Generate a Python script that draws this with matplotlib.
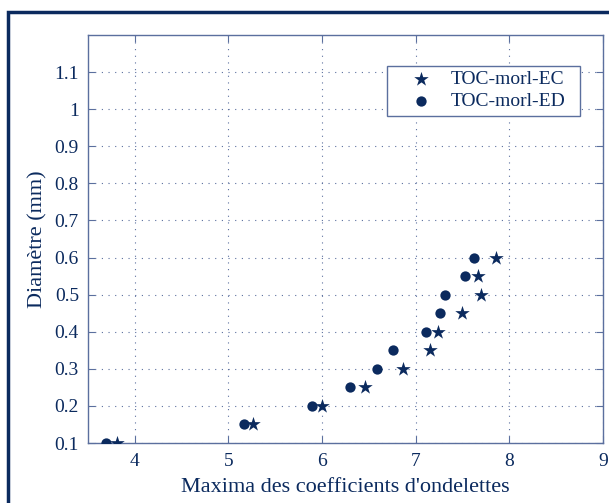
import matplotlib
matplotlib.use("Agg")
import matplotlib.pyplot as plt
from matplotlib.patches import Rectangle

ec_x = [3.81, 5.26, 6.00, 6.46, 6.86, 7.155, 7.24, 7.49, 7.70, 7.66, 7.86]
ec_y = [0.10, 0.15, 0.20, 0.25, 0.30, 0.35, 0.40, 0.45, 0.50, 0.55, 0.60]
ed_x = [3.69, 5.17, 5.89, 6.30, 6.59, 6.76, 7.11, 7.26, 7.31, 7.53, 7.62]
ed_y = [0.10, 0.15, 0.20, 0.25, 0.30, 0.35, 0.40, 0.45, 0.50, 0.55, 0.60]
xticks = [4, 5, 6, 7, 8, 9]
yticks = [0.1, 0.2, 0.3, 0.4, 0.5, 0.6, 0.7, 0.8, 0.9, 1.0, 1.1]
ytick_labels = ["0.1", "0.2", "0.3", "0.4", "0.5", "0.6", "0.7", "0.8", "0.9", "1", "1.1"]

navy = "#0b2a5e"
spine = "#5b6f9e"

plt.rcParams['font.family'] = ['Liberation Serif', 'DejaVu Serif']

W, H = 609, 503
AX_L, AX_R, AX_T, AX_B = 88, 603, 35, 443
fig = plt.figure(figsize=(W/100, H/100), dpi=100)
ax = fig.add_axes([AX_L/W, 1-AX_B/H, (AX_R-AX_L)/W, (AX_B-AX_T)/H])

def px2ax(x, y):
    return (x-AX_L)/(AX_R-AX_L), (AX_B-y)/(AX_B-AX_T)

fig.patches.append(Rectangle((8/W, -0.5), 2, 0.5 + 1 - 12/H, transform=fig.transFigure,
                             fill=False, edgecolor=navy, linewidth=2.5, clip_on=False))

ax.scatter(ec_x, ec_y, marker='*', s=120, color=navy, label='TOC-morl-EC', zorder=3, linewidths=0)
ax.scatter(ed_x, ed_y, marker='o', s=55, color=navy, label='TOC-morl-ED', zorder=3, linewidths=0)

ax.set_xlim(3.5, 9)
ax.set_ylim(0.1, 1.2)
ax.set_xticks(xticks)
ax.set_yticks(yticks)
ax.set_yticklabels(ytick_labels)
ax.grid(True, linestyle=(0, (1, 5)), color=spine, linewidth=0.8)
ax.tick_params(direction='in', top=True, right=True, colors=spine, labelcolor=navy,
               labelsize=14, length=5)
ax.tick_params(axis='x', pad=7)
ax.tick_params(axis='y', pad=6.5)
for s in ax.spines.values():
    s.set_color(spine)
    s.set_linewidth(1.0)

ax.set_xlabel("Maxima des coefficients d'ondelettes", fontsize=16, color=navy, labelpad=6)
ax.set_ylabel("Diamètre (mm)", fontsize=16, color=navy, labelpad=5)

# legend box
x0, y0 = px2ax(387, 116)
x1, y1 = px2ax(580, 66)
ax.add_patch(Rectangle((x0, y0), x1-x0, y1-y0, transform=ax.transAxes, facecolor='white',
                       edgecolor=spine, linewidth=1.0, zorder=4))
leg = ax.legend(loc='upper left', fontsize=14, frameon=False,
                borderpad=0, borderaxespad=0, handlelength=1.0, handletextpad=1.0,
                labelspacing=0.2, labelcolor=navy)
leg.set_bbox_to_anchor(px2ax(411.3, 70.5), transform=ax.transAxes)
leg.set_zorder(5)

fig.savefig("out.png", dpi=100)
